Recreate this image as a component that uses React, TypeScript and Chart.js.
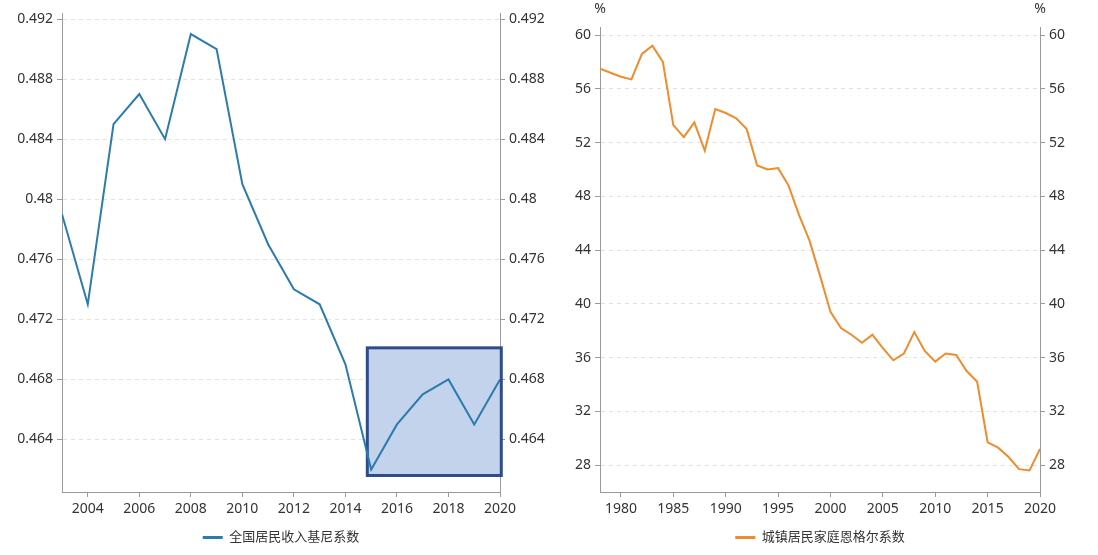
import React, { useEffect, useRef } from "react";
import { Chart, registerables } from "chart.js";

Chart.register(...registerables);

// ---------- Data: left chart (Gini coefficient) ----------
const giniYears = [2003, 2004, 2005, 2006, 2007, 2008, 2009, 2010, 2011, 2012, 2013, 2014, 2015, 2016, 2017, 2018, 2019, 2020];
const giniValues = [0.479, 0.473, 0.485, 0.487, 0.484, 0.491, 0.49, 0.481, 0.477, 0.474, 0.473, 0.469, 0.462, 0.465, 0.467, 0.468, 0.465, 0.468];
const giniXTicks = [2004, 2006, 2008, 2010, 2012, 2014, 2016, 2018, 2020];
const giniYTicks = [0.464, 0.468, 0.472, 0.476, 0.48, 0.484, 0.488, 0.492];
const giniXRange = [2003, 2020];
const giniYRange = [0.4605, 0.4924];
const giniLabel = "全国居民收入基尼系数";
const highlightXRange = [2014.85, 2020.05];
const highlightYRange = [0.4616, 0.4701];

// ---------- Data: right chart (urban Engel coefficient) ----------
const engelYears = [1978, 1979, 1980, 1981, 1982, 1983, 1984, 1985, 1986, 1987, 1988, 1989, 1990, 1991, 1992, 1993, 1994, 1995, 1996, 1997, 1998, 1999, 2000, 2001, 2002, 2003, 2004, 2005, 2006, 2007, 2008, 2009, 2010, 2011, 2012, 2013, 2014, 2015, 2016, 2017, 2018, 2019, 2020];
const engelValues = [57.5, 57.2, 56.9, 56.7, 58.6, 59.2, 58.0, 53.3, 52.4, 53.5, 51.4, 54.5, 54.2, 53.8, 53.0, 50.3, 50.0, 50.1, 48.8, 46.6, 44.7, 42.1, 39.4, 38.2, 37.7, 37.1, 37.7, 36.7, 35.8, 36.3, 37.9, 36.5, 35.7, 36.3, 36.2, 35.0, 34.2, 29.7, 29.3, 28.6, 27.7, 27.6, 29.2];
const engelXTicks = [1980, 1985, 1990, 1995, 2000, 2005, 2010, 2015, 2020];
const engelYTicks = [28, 32, 36, 40, 44, 48, 52, 56, 60];
const engelXRange = [1978, 2020];
const engelYRange = [26, 60.6];
const engelLabel = "城镇居民家庭恩格尔系数";
const engelUnit = "%";

// ---------- Styles ----------
const FONT = "'Noto Sans', 'Noto Sans CJK SC', sans-serif";
const TEXT = "#333";
const AXIS = "#9a9a9a";
const GRID = "#e3e3e3";
const BLUE = "#2c7bae";
const ORANGE = "#ef8c2c";

type Cfg = {
  xs: number[];
  ys: number[];
  xTicks: number[];
  yTicks: number[];
  xRange: number[];
  yRange: number[];
  label: string;
  color: string;
  padTop: number;
  leftW: number;
  rightW: number;
  fmt: (v: number) => string;
  plugins: any[];
};

function buildConfig(c: Cfg): any {
  const tickFont = { family: FONT, size: 14 };
  const yCommon = (pos: "left" | "right", w: number, onArea: boolean) => ({
    type: "linear",
    position: pos,
    min: c.yRange[0],
    max: c.yRange[1],
    afterBuildTicks: (s: any) => {
      s.ticks = c.yTicks.map((v) => ({ value: v }));
    },
    afterFit: (s: any) => {
      s.width = w;
    },
    grid: {
      drawOnChartArea: onArea,
      color: GRID,
      lineWidth: 1,
      drawTicks: true,
      tickLength: 5,
      tickColor: AXIS,
      tickBorderDash: [],
      tickWidth: 1,
    },
    border: { display: true, color: AXIS, width: 1, dash: [4, 4] },
    ticks: {
      color: TEXT,
      font: tickFont,
      padding: 4,
      autoSkip: false,
      callback: (v: any) => c.fmt(Number(v)),
    },
  });
  return {
    type: "line",
    data: {
      datasets: [
        {
          label: c.label,
          data: c.xs.map((x, i) => ({ x, y: c.ys[i] })),
          borderColor: c.color,
          backgroundColor: c.color,
          borderWidth: 2,
          pointRadius: 0,
          pointHoverRadius: 0,
          tension: 0,
          fill: false,
          yAxisID: "y",
          xAxisID: "x",
        },
      ],
    },
    options: {
      responsive: false,
      animation: false,
      devicePixelRatio: 1,
      layout: { padding: { top: c.padTop, bottom: 1, left: 0, right: 0 } },
      scales: {
        x: {
          type: "linear",
          min: c.xRange[0],
          max: c.xRange[1],
          afterBuildTicks: (s: any) => {
            s.ticks = c.xTicks.map((v) => ({ value: v }));
          },
          afterFit: (s: any) => {
            s.height = 29;
          },
          grid: {
            drawOnChartArea: false,
            drawTicks: true,
            tickLength: 5,
            tickColor: AXIS,
            color: GRID,
          },
          border: { display: true, color: AXIS, width: 1 },
          ticks: {
            color: TEXT,
            font: tickFont,
            padding: 4,
            maxRotation: 0,
            autoSkip: false,
            callback: (v: any) => String(v),
          },
        },
        y: yCommon("left", c.leftW, true),
        y2: yCommon("right", c.rightW, false),
      },
      plugins: {
        legend: {
          display: true,
          position: "bottom",
          fullSize: false,
          labels: {
            color: TEXT,
            font: { family: FONT, size: 13 },
            usePointStyle: true,
            pointStyle: "line",
            pointStyleWidth: 20,
            padding: 10,
            generateLabels: (chart: any) =>
              Chart.defaults.plugins.legend.labels
                .generateLabels(chart)
                .map((l: any) => ({ ...l, lineWidth: 3, strokeStyle: c.color })),
          },
        },
        tooltip: { enabled: false },
      },
      events: [],
    },
    plugins: c.plugins,
  };
}

const highlightPlugin = {
  id: "highlightBox",
  beforeDatasetsDraw(chart: any) {
    const { ctx, scales } = chart;
    const x1 = scales.x.getPixelForValue(highlightXRange[0]);
    const x2 = scales.x.getPixelForValue(highlightXRange[1]);
    const y1 = scales.y.getPixelForValue(highlightYRange[1]);
    const y2 = scales.y.getPixelForValue(highlightYRange[0]);
    ctx.save();
    ctx.fillStyle = "#c4d3ec";
    ctx.fillRect(x1, y1, x2 - x1, y2 - y1);
    ctx.lineWidth = 3;
    ctx.strokeStyle = "#2e4c89";
    ctx.strokeRect(x1, y1, x2 - x1, y2 - y1);
    ctx.restore();
  },
};

const unitPlugin = {
  id: "unitLabels",
  afterDraw(chart: any) {
    const { ctx, chartArea } = chart;
    ctx.save();
    ctx.font = `14px ${FONT}`;
    ctx.fillStyle = TEXT;
    ctx.textAlign = "center";
    ctx.textBaseline = "middle";
    ctx.fillText(engelUnit, chartArea.left, 9);
    ctx.fillText(engelUnit, chartArea.right, 9);
    ctx.restore();
  },
};

function fmtGini(v: number) {
  return String(Number(v.toFixed(3)));
}
function fmtEngel(v: number) {
  return String(Math.round(v));
}

export default function App() {
  const leftRef = useRef<HTMLCanvasElement | null>(null);
  const rightRef = useRef<HTMLCanvasElement | null>(null);

  useEffect(() => {
    const charts: Chart[] = [];
    if (leftRef.current) {
      charts.push(
        new Chart(
          leftRef.current,
          buildConfig({
            xs: giniYears,
            ys: giniValues,
            xTicks: giniXTicks,
            yTicks: giniYTicks,
            xRange: giniXRange,
            yRange: giniYRange,
            label: giniLabel,
            color: BLUE,
            padTop: 13,
            leftW: 62,
            rightW: 50,
            fmt: fmtGini,
            plugins: [highlightPlugin],
          })
        )
      );
    }
    if (rightRef.current) {
      charts.push(
        new Chart(
          rightRef.current,
          buildConfig({
            xs: engelYears,
            ys: engelValues,
            xTicks: engelXTicks,
            yTicks: engelYTicks,
            xRange: engelXRange,
            yRange: engelYRange,
            label: engelLabel,
            color: ORANGE,
            padTop: 27,
            leftW: 50,
            rightW: 58,
            fmt: fmtEngel,
            plugins: [unitPlugin],
          })
        )
      );
    }
    return () => charts.forEach((ch) => ch.destroy());
  }, []);

  return (
    <div style={{ position: "absolute", left: 0, top: 0, width: 1098, height: 555, background: "#fff" }}>
      <canvas
        ref={leftRef}
        width={550}
        height={555}
        style={{ position: "absolute", left: 0, top: 0, width: 550, height: 555 }}
      />
      <canvas
        ref={rightRef}
        width={548}
        height={555}
        style={{ position: "absolute", left: 550, top: 0, width: 548, height: 555 }}
      />
    </div>
  );
}
